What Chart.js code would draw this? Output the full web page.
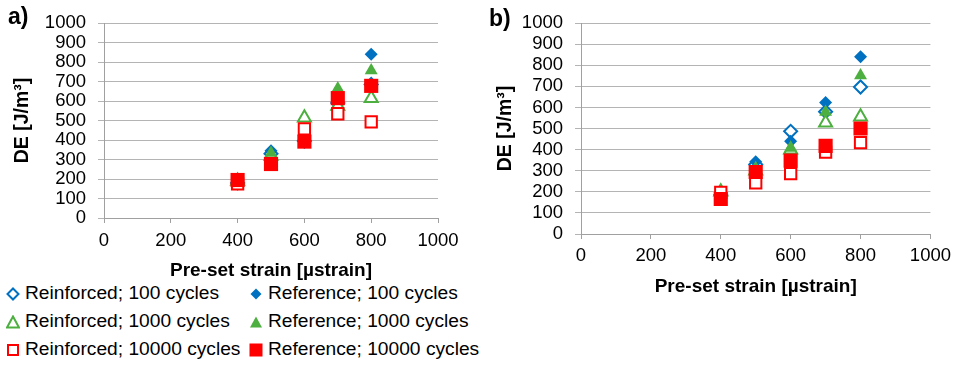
<!DOCTYPE html>
<html lang="en">
<head>
<meta charset="utf-8">
<title>DE vs pre-set strain</title>
<script src="https://cdn.jsdelivr.net/npm/chart.js@4"></script>
<style>
    body { margin: 0; width: 957px; height: 365px; background: #fff; position: relative; overflow: hidden;
           font-family: "Liberation Sans", Arial, sans-serif; }
    .panel { position: absolute; }
    .tag { position: absolute; font-weight: bold; font-size: 23px; }
    #legend { position: absolute; left: 0; top: 280px; width: 480px; font-size: 19.2px; }
    .item { position: absolute; white-space: nowrap; line-height: 22px; }
    .item svg { position: absolute; top: 5px; }
</style>
</head>
<body>

<div class="panel" style="left:0;top:0;width:480px;height:282px"><canvas id="chartA"></canvas></div>
<div class="panel" style="left:480px;top:0;width:477px;height:300px"><canvas id="chartB"></canvas></div>
<div class="tag" style="left:8px;top:3px">a)</div>
<div class="tag" style="left:489px;top:5px">b)</div>
<div id="legend"></div>

<script>
    // pre-set strain [µstrain]
    var strain = [400, 500, 600, 700, 800];
    var xTicks = [0, 200, 400, 600, 800, 1000];
    var yTicks = [0, 100, 200, 300, 400, 500, 600, 700, 800, 900, 1000];

    // panel a) DE [J/m3]
    var reinf100a   = [180, 330, 395, 590, 685];
    var ref100a     = [185, 345, 390, 585, 840];
    var reinf1000a  = [190, 318, 515, 575, 615];
    var ref1000a    = [195, 333, 398, 665, 757];
    var reinf10000a = [175, 275, 457, 535, 493];
    var ref10000a   = [195, 277, 392, 615, 678];

    // panel b) DE [J/m3]
    var reinf100b   = [185, 330, 487, 580, 697];
    var ref100b     = [188, 343, 440, 624, 840];
    var reinf1000b  = [200, 300, 400, 527, 556];
    var ref1000b    = [185, 312, 408, 578, 752];
    var reinf10000b = [197, 242, 286, 388, 433];
    var ref10000b   = [166, 294, 348, 418, 500];

    var seriesNames = ["Reinforced; 100 cycles", "Reference; 100 cycles",
                       "Reinforced; 1000 cycles", "Reference; 1000 cycles",
                       "Reinforced; 10000 cycles", "Reference; 10000 cycles"];

    var BLUE = "#0070C0", GREEN = "#4CAF3F", RED = "#FF0000";
    var FONT = "'Liberation Sans', Arial, sans-serif";

    // style per series: [shape, colour, filled, radius]
    var styles = [
        ["rectRot", BLUE, false, 6.5],
        ["rectRot", BLUE, true, 6.5],
        ["triangle", GREEN, false, 7.5],
        ["triangle", GREEN, true, 7.5],
        ["rect", RED, false, 8],
        ["rect", RED, true, 10]
    ];

    function makeDatasets(list) {
        return list.map(function(vals, i) {
            var s = styles[i];
            return {
                label: seriesNames[i],
                data: strain.map(function(x, j) { return {x: x, y: vals[j]}; }),
                pointStyle: s[0],
                pointRadius: s[3],
                pointHoverRadius: s[3],
                borderWidth: s[2] ? 0 : 2,
                borderColor: s[1],
                backgroundColor: s[2] ? s[1] : "#ffffff",
                order: 5 - i
            };
        });
    }

    function fixedTicks(list) {
        return function(axis) {
            axis.ticks = list.map(function(v) { return {value: v}; });
        };
    }
    function plain(v) { return String(v); }

    function makeChart(id, lists, pad, yWidth, xHeight, yTitlePad, xTitlePad, xTickPad) {
        return new Chart(document.getElementById(id), {
            type: "scatter",
            data: { datasets: makeDatasets(lists) },
            options: {
                responsive: true,
                maintainAspectRatio: false,
                animation: false,
                layout: { padding: pad },
                plugins: { legend: { display: false }, tooltip: { enabled: false } },
                scales: {
                    x: {
                        min: 0, max: 1000,
                        afterBuildTicks: fixedTicks(xTicks),
                        afterFit: function(axis) { axis.height = xHeight; },
                        grid: { drawOnChartArea: false, color: "#a0a0a0", tickLength: 5 },
                        border: { color: "#a0a0a0" },
                        ticks: { autoSkip: false, maxRotation: 0, padding: xTickPad, color: "#000",
                                 callback: plain, font: { family: FONT, size: 18.5 } },
                        title: { display: true, text: "Pre-set strain [µstrain]", color: "#000",
                                 font: { family: FONT, size: 19, weight: "bold" },
                                 padding: { top: 0, bottom: xTitlePad } }
                    },
                    y: {
                        min: 0, max: 1000,
                        afterBuildTicks: fixedTicks(yTicks),
                        ticks: { autoSkip: false, padding: 12, color: "#000",
                                 callback: plain, font: { family: FONT, size: 18.5 } },
                        afterFit: function(axis) { axis.width = yWidth; },
                        grid: { color: "#b4b4b4", tickLength: 6 },
                        border: { color: "#a0a0a0" },
                        title: { display: true, text: "DE [J/m³]", color: "#000",
                                 font: { family: FONT, size: 19.5, weight: "bold" },
                                 padding: { top: yTitlePad, bottom: 0 } }
                    }
                }
            }
        });
    }

    makeChart("chartA", [reinf100a, ref100a, reinf1000a, ref1000a, reinf10000a, ref10000a],
              { left: 0, right: 42, top: 18, bottom: 0 }, 104, 64, 11, 0, 7);
    makeChart("chartB", [reinf100b, ref100b, reinf1000b, ref1000b, reinf10000b, ref10000b],
              { left: 0, right: 26, top: 21, bottom: 0 }, 101, 66, 14, 2, 6);

    // legend (two columns: reinforced left, reference right)
    function marker(i) {
        var s = styles[i], c = s[1];
        var fill = s[2] ? c : "#fff";
        var shape;
        if (s[0] === "rectRot") shape = '<polygon points="7,1.5 12.5,7 7,12.5 1.5,7" fill="' + fill + '" stroke="' + c + '" stroke-width="' + (s[2] ? 0 : 2) + '"/>';
        else if (s[0] === "triangle") shape = '<polygon points="7,1.5 13,12.5 1,12.5" fill="' + fill + '" stroke="' + c + '" stroke-width="' + (s[2] ? 0 : 2) + '"/>';
        else shape = s[2] ? '<rect x="0.5" y="0.5" width="13" height="13" fill="' + c + '"/>'
                          : '<rect x="2" y="2" width="10" height="10" fill="#fff" stroke="' + c + '" stroke-width="2"/>';
        return '<svg width="14" height="14" viewBox="0 0 14 14">' + shape + '</svg>';
    }
    var html = "";
    for (var i = 0; i < seriesNames.length; i++) {
        var col = i % 2, row = Math.floor(i / 2);
        var itemLeft = col === 0 ? 6 : 249;
        var itemTop = row * 28 + 2;
        html += '<div class="item" style="left:' + itemLeft + 'px;top:' + itemTop + 'px">' + marker(i) +
                '<span style="margin-left:19px">' + seriesNames[i] + '</span></div>';
    }
    document.getElementById("legend").innerHTML = html;
</script>
</body>
</html>
